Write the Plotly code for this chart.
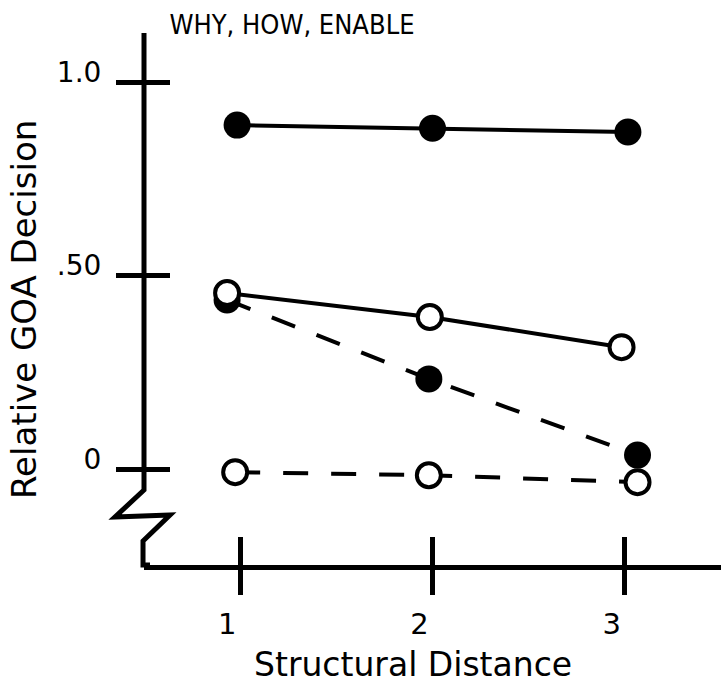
import plotly.graph_objects as go

# ---- data ----
title_text = "WHY, HOW, ENABLE"
x_title = "Structural Distance"
y_title = "Relative GOA Decision"

x_tick_vals = [1, 2, 3]
x_tick_text = ["1", "2", "3"]
y_tick_vals = [0, 0.5, 1.0]
y_tick_text = ["0", ".50", "1.0"]

# filled circles, solid line
fs_x = [0.984, 2.0, 3.016]
fs_y = [0.889, 0.881, 0.871]
# open circles, solid line
os_x = [0.932, 1.986, 2.983]
os_y = [0.455, 0.393, 0.315]
# filled circles, dashed line
fd_x = [0.932, 1.981, 3.066]
fd_y = [0.437, 0.233, 0.036]
# open circles, dashed line
od_x = [0.974, 1.981, 3.066]
od_y = [-0.008, -0.016, -0.034]

FONT = "DejaVu Sans"
BLACK = "black"

fig = go.Figure()

def add(x, y, filled, dashed):
    fig.add_trace(go.Scatter(
        x=x, y=y, mode="lines+markers",
        line=dict(color=BLACK, width=4, dash="25px,23px" if dashed else "solid"),
        marker=dict(
            size=27 if filled else 24,
            color=BLACK if filled else "white",
            line=dict(color=BLACK, width=0 if filled else 4),
        ),
        showlegend=False, cliponaxis=False,
    ))

add(fs_x, fs_y, True, False)
add(fd_x, fd_y, True, True)
add(os_x, os_y, False, False)
add(od_x, od_y, False, True)

W, H = 721, 690
L, R, T, B = 144, 0, 33, 125

fig.update_layout(
    width=W, height=H,
    margin=dict(l=L, r=R, t=T, b=B),
    paper_bgcolor="white", plot_bgcolor="white",
    font=dict(family=FONT, color=BLACK),
    title=dict(text=title_text, x=(292 - L) / (W - L - R), xref="paper",
               xanchor="center", y=1 - 25 / H, yanchor="middle",
               font=dict(size=27, family="DejaVu Sans Condensed, DejaVu Sans")),
    xaxis=dict(range=[0.5, 3.5], showgrid=False, zeroline=False,
               showline=True, linecolor=BLACK, linewidth=5,
               tickmode="array", tickvals=x_tick_vals, ticktext=x_tick_text,
               ticks="outside", ticklen=25, tickwidth=5, tickcolor=BLACK,
               tickfont=dict(size=29), ticklabelshift=-13, ticklabelstandoff=4),
    yaxis=dict(range=[-0.248, 1.127], showgrid=False, zeroline=False,
               showline=False,
               tickmode="array", tickvals=y_tick_vals, ticktext=y_tick_text,
               ticks="outside", ticklen=27, tickwidth=5, tickcolor=BLACK,
               tickfont=dict(size=28), ticklabelshift=-10, ticklabelstandoff=9),
    xaxis2=dict(range=[0.5, 3.5], overlaying="x", showgrid=False, zeroline=False,
                showline=False, tickmode="array", tickvals=x_tick_vals,
                showticklabels=False, ticks="inside", ticklen=28, tickwidth=5,
                tickcolor=BLACK),
    yaxis2=dict(range=[-0.248, 1.127], overlaying="y", showgrid=False,
                zeroline=False, showline=False, tickmode="array",
                tickvals=y_tick_vals, showticklabels=False, ticks="inside",
                ticklen=26, tickwidth=5, tickcolor=BLACK),
)

# dummy invisible trace to activate the overlay axes
fig.add_trace(go.Scatter(x=[None], y=[None], xaxis="x2", yaxis="y2",
                         showlegend=False, hoverinfo="skip"))

# broken y axis line with zigzag (in axis-domain coordinates)
pw, ph = W - L - R, H - T - B
def px(xp):
    return (xp - L) / pw
def py(yp):
    return (H - B - yp) / ph
pts = [(144, 33), (144, 490), (115, 517), (170, 515), (143, 541), (143, 565), (150, 565)]
path = "M " + " L ".join(f"{px(a):.4f},{py(b):.4f}" for a, b in pts)
fig.add_shape(type="path", path=path, xref="x domain", yref="y domain",
              line=dict(color=BLACK, width=5), layer="above")

# axis titles
fig.add_annotation(text=x_title, xref="paper", yref="paper",
                   x=px(413), y=py(664), xanchor="center", yanchor="middle",
                   showarrow=False, font=dict(size=33, family=FONT))
fig.add_annotation(text=y_title, xref="paper", yref="paper",
                   x=px(24), y=py(310), xanchor="center", yanchor="middle",
                   textangle=-90, showarrow=False, font=dict(size=34, family=FONT))

fig.write_html("out.html")
